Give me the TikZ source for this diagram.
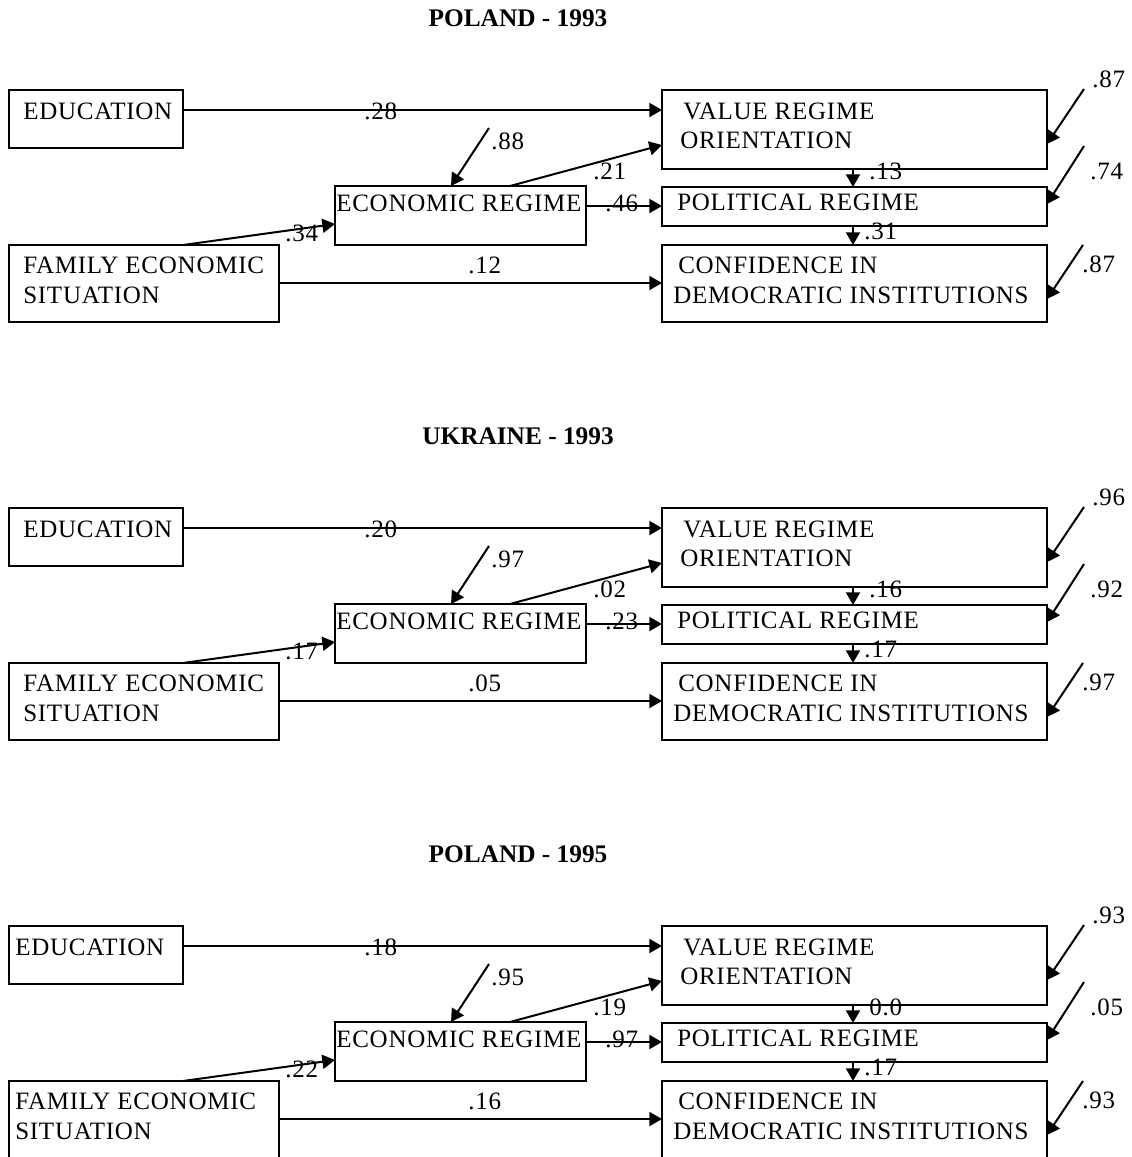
\documentclass[tikz,border=0pt]{standalone}
\usepackage{fontspec}
\setmainfont{Liberation Serif}
\newfontfamily\spaced{Liberation Serif}[LetterSpace=3]
\usetikzlibrary{arrows.meta,calc}
\tikzset{
  box/.style 2 args={draw, line width=1.5pt, rectangle, inner sep=0pt, outer sep=0pt,
    anchor=north west, minimum width={#1*0.75pt}, minimum height={#2*0.75pt}},
  txt/.style={anchor=base west, inner sep=0pt, font=\spaced\fontsize{18.75pt}{22pt}\selectfont},
  lab/.style={txt},
  ttl/.style={anchor=base, inner sep=0pt, font=\bfseries\fontsize{19pt}{22pt}\selectfont},
  arr/.style={line width=1.5pt, -{Triangle[length=9.5pt,width=10.5pt]}},
  dn/.style={yshift={-(#1)*0.75pt}},
  rt/.style={xshift={(#1)*0.75pt}},
}
\newcommand\drawpanel[4]{%
\begin{scope}[shift={(0,#2)}]
 \node[ttl] (t#1) at (518,444) {#3};
 \node[box={174}{58}] (edu#1) at (9,508) {};
 \node[box={270}{77}] (fam#1) at (9,663) {};
 \node[box={251}{59}] (eco#1) at (335,604) {};
 \node[box={385}{79}] (val#1) at (662,508) {};
 \node[box={385}{39}] (pol#1) at (662,605) {};
 \node[box={385}{77}] (con#1) at (662,663) {};
 \node[txt] (edut#1) at ({23+#4},537) {EDUCATION};
 \node[txt] (famt#1) at ({23+#4},691) {FAMILY ECONOMIC};
 \node[txt] (famu#1) at ({23+#4},721) {SITUATION};
 \node[txt] (ecot#1) at (336,629) {ECONOMIC REGIME};
 \node[txt] (valt#1) at (683,537) {VALUE REGIME};
 \node[txt] (valu#1) at (680,566) {ORIENTATION};
 \node[txt] (polt#1) at (677,628) {POLITICAL REGIME};
 \node[txt] (cont#1) at (678,691) {CONFIDENCE IN};
 \node[txt] (conu#1) at (673,721) {DEMOCRATIC INSTITUTIONS};
 \coordinate (rE#1) at (489,546);
 \coordinate (rV#1) at (1084,507);
 \coordinate (rP#1) at (1084,564);
 \coordinate (rC#1) at (1083,663);
 \draw[arr] ([dn=20]edu#1.north east) -- ([dn=20]val#1.north west);
 \draw[arr] ([rt=174]fam#1.north west) -- ([dn=38]eco#1.north west);
 \draw[arr] ([dn=38]fam#1.north east) -- ([dn=38]con#1.north west);
 \draw[arr] ([rt=175]eco#1.north west) -- ([dn=55]val#1.north west);
 \draw[arr] ([dn=20]eco#1.north east) -- ([dn=19]pol#1.north west);
 \draw[arr] ([rt=191]val#1.south west) -- ([rt=191]pol#1.north west);
 \draw[arr] ([rt=191]pol#1.south west) -- ([rt=191]con#1.north west);
 \draw[arr] (rE#1) -- ([rt=116]eco#1.north west);
 \draw[arr] (rV#1) -- ([dn=54]val#1.north east);
 \draw[arr] (rP#1) -- ([dn=17]pol#1.north east);
 \draw[arr] (rC#1) -- ([dn=54]con#1.north east);
 \node[lab] (lev#1) at (364,537) {\Lev};
 \node[lab] (lre#1) at (491,567) {\Lre};
 \node[lab] (lcv#1) at (593,597) {\Lcv};
 \node[lab] (lcp#1) at (605,629) {\Lcp};
 \node[lab] (lfe#1) at (285,659) {\Lfe};
 \node[lab] (lfc#1) at (468,691) {\Lfc};
 \node[lab] (lvp#1) at (869,597) {\Lvp};
 \node[lab] (lpc#1) at (864,657) {\Lpc};
 \node[lab] (lrv#1) at (1092,505) {\Lrv};
 \node[lab] (lrp#1) at (1090,597) {\Lrp};
 \node[lab] (lrc#1) at (1082,690) {\Lrc};
\end{scope}}
\begin{document}
\begin{tikzpicture}[x=0.75pt,y=-0.75pt]
\useasboundingbox (0,0) rectangle (1132,1157);
\def\Lev{.28}\def\Lre{.88}\def\Lcv{.21}\def\Lcp{.46}\def\Lfe{.34}\def\Lfc{.12}%
\def\Lvp{.13}\def\Lpc{.31}\def\Lrv{.87}\def\Lrp{.74}\def\Lrc{.87}%
\drawpanel{a}{-418}{POLAND - 1993}{0}
\def\Lev{.20}\def\Lre{.97}\def\Lcv{.02}\def\Lcp{.23}\def\Lfe{.17}\def\Lfc{.05}%
\def\Lvp{.16}\def\Lpc{.17}\def\Lrv{.96}\def\Lrp{.92}\def\Lrc{.97}%
\drawpanel{b}{0}{UKRAINE - 1993}{0}
\def\Lev{.18}\def\Lre{.95}\def\Lcv{.19}\def\Lcp{.97}\def\Lfe{.22}\def\Lfc{.16}%
\def\Lvp{0.0}\def\Lpc{.17}\def\Lrv{.93}\def\Lrp{.05}\def\Lrc{.93}%
\drawpanel{c}{418}{POLAND - 1995}{-8}
\end{tikzpicture}
\end{document}
